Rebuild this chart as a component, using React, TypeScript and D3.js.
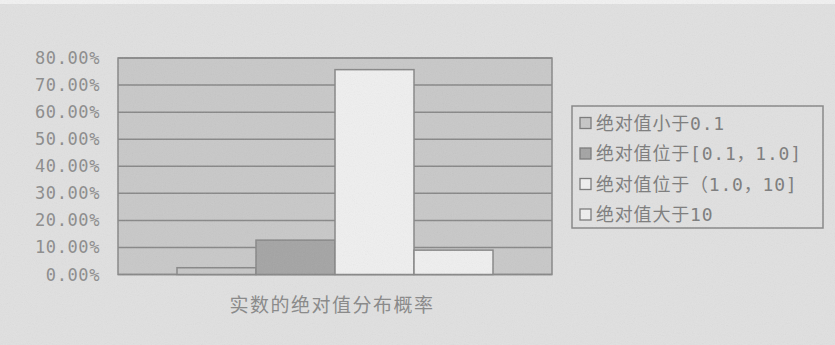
import React from "react";
import * as d3 from "d3";

const categories = ["实数的绝对值分布概率"];
const seriesNames = ["绝对值小于0.1", "绝对值位于[0.1，1.0]", "绝对值位于（1.0，10]", "绝对值大于10"];
const seriesValues = [0.025, 0.127, 0.757, 0.09];
const yTicks = [0, 0.1, 0.2, 0.3, 0.4, 0.5, 0.6, 0.7, 0.8];

const seriesFill = ["#c6c6c6", "#a4a4a4", "#efefef", "#efefef"];

const W = 835;
const H = 345;
const plot = { left: 118, right: 552, top: 58, bottom: 274.5 };
const mono = "'DejaVu Sans Mono', 'Liberation Mono', 'Noto Sans CJK SC', monospace";
const cjk = "'Noto Sans CJK SC', sans-serif";

export default function App() {
  const y = d3.scaleLinear().domain([0, 0.8]).range([plot.bottom, plot.top]);
  const xCat = d3
    .scaleBand<string>()
    .domain(categories)
    .range([plot.left, plot.right])
    .paddingInner(0)
    .paddingOuter(0.1867);
  const xSer = d3
    .scaleBand<string>()
    .domain(seriesNames)
    .range([0, xCat.bandwidth()])
    .padding(0);
  const fmt = d3.format(".2%");
  const line = "#878787";

  return (
    <svg
      width={W}
      height={H}
      style={{ position: "absolute", left: 0, top: 0, display: "block" }}
    >
      <defs>
        <filter id="noise" x="0" y="0" width="100%" height="100%">
          <feTurbulence type="fractalNoise" baseFrequency="0.9" numOctaves="2" seed="3" />
          <feColorMatrix type="saturate" values="0" />
        </filter>
      </defs>
      <rect x={0} y={0} width={W} height={H} fill="#e0e0e0" />
      <rect x={0} y={0} width={W} height={4} fill="#f1f1f1" />

      {/* plot area */}
      <rect
        x={plot.left}
        y={plot.top}
        width={plot.right - plot.left}
        height={plot.bottom - plot.top}
        fill="#c8c8c8"
        stroke={line}
        strokeWidth={1.5}
      />
      {yTicks.map((t) => (
        <line
          key={"g" + t}
          x1={plot.left}
          x2={plot.right}
          y1={y(t)}
          y2={y(t)}
          stroke={line}
          strokeWidth={1.5}
        />
      ))}

      {/* bars */}
      {categories.map((c) =>
        seriesNames.map((s, i) => {
          const x0 = (xCat(c) ?? 0) + (xSer(s) ?? 0);
          return (
            <rect
              key={c + s}
              x={x0}
              y={y(seriesValues[i])}
              width={xSer.bandwidth()}
              height={plot.bottom - y(seriesValues[i])}
              fill={seriesFill[i]}
              stroke={line}
              strokeWidth={1.5}
            />
          );
        })
      )}

      {/* y tick labels */}
      {yTicks.map((t) => (
        <text
          key={"t" + t}
          x={100}
          y={y(t)}
          textAnchor="end"
          dominantBaseline="central"
          fontFamily={mono}
          fontSize={17}
          letterSpacing={0.6}
          fill="#8c8c8c"
        >
          {fmt(t)}
        </text>
      ))}

      {/* category label */}
      {categories.map((c) => (
        <text
          key={"c" + c}
          x={(xCat(c) ?? 0) + xCat.bandwidth() / 2 - 3}
          y={303}
          textAnchor="middle"
          dominantBaseline="central"
          fontFamily={cjk}
          fontSize={19}
          letterSpacing={1.5}
          fill="#888"
        >
          {c}
        </text>
      ))}

      {/* legend */}
      <rect x={572} y={106} width={251} height={122} fill="none" stroke={line} strokeWidth={1.5} />
      {seriesNames.map((s, i) => {
        const cy = 123 + i * 30.5;
        return (
          <g key={"l" + s}>
            <rect
              x={580}
              y={cy - 5.5}
              width={11}
              height={11}
              fill={seriesFill[i]}
              stroke="#7a7a7a"
              strokeWidth={1.3}
            />
            <text
              x={596}
              y={cy}
              dominantBaseline="central"
              fontFamily={mono}
              fontSize={18}
              letterSpacing={0.8}
              fill="#7c7c7c"
            >
              {s}
            </text>
          </g>
        );
      })}

      <rect x={0} y={0} width={W} height={H} filter="url(#noise)" opacity={0.1} />
    </svg>
  );
}
